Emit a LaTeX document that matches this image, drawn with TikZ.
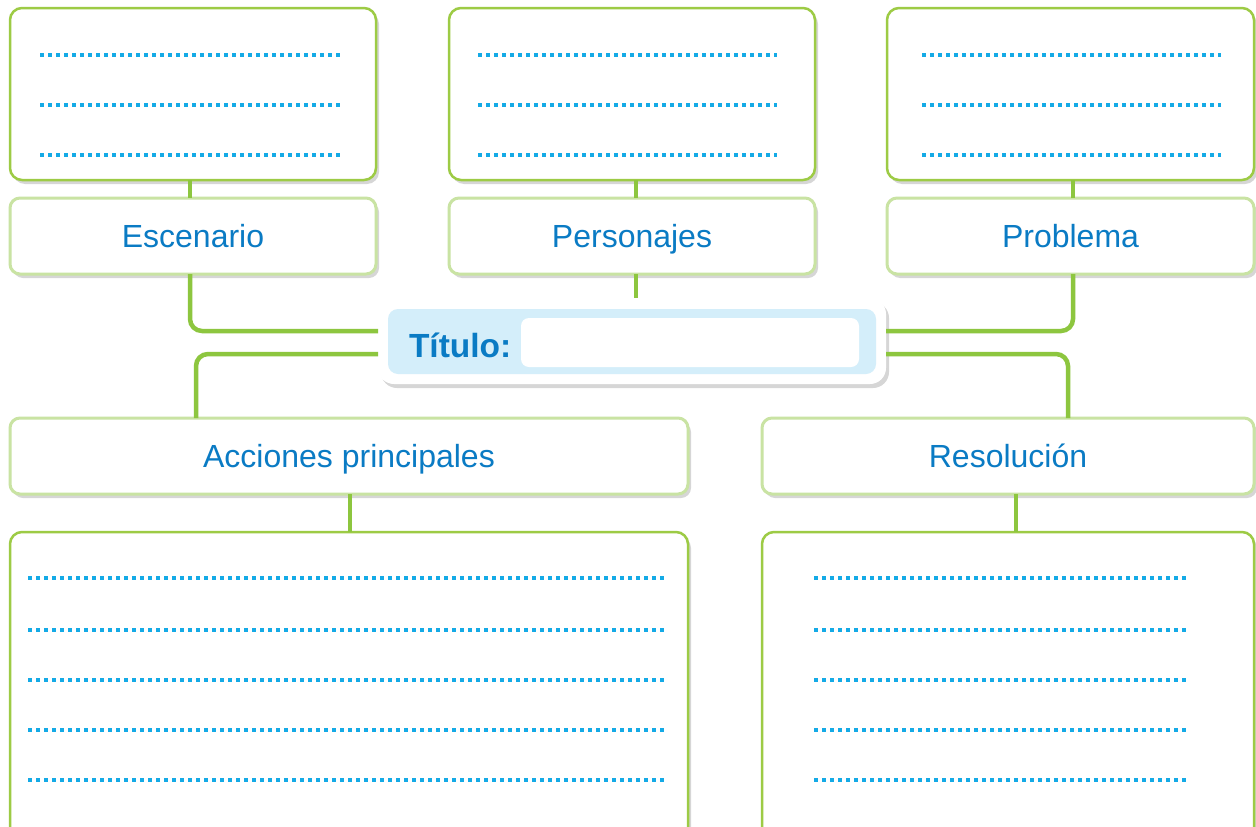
\documentclass[tikz,border=0pt]{standalone}
\usepackage{fontspec}
\setmainfont{Liberation Sans}
\usetikzlibrary{shadows}
\definecolor{leaf}{HTML}{8DC63F}
\definecolor{leafdark}{HTML}{9DCB45}
\definecolor{leaflight}{HTML}{C9E3A3}
\definecolor{ink}{HTML}{0A7BC4}
\definecolor{sky}{HTML}{14AAE6}
\definecolor{pale}{HTML}{D4EEFA}

\begin{document}
\begin{tikzpicture}[x=1pt,y=-1pt,
  every node/.style={inner sep=0pt,outer sep=0pt},
  soft/.style={drop shadow={shadow xshift=3pt,shadow yshift=-4pt,fill=black,opacity=.16}},
  databox/.style={soft,draw=leafdark,line width=2.5pt,fill=white,rounded corners=12pt},
  tagbox/.style={soft,draw=leaflight,line width=3pt,fill=white,rounded corners=10pt,
                 minimum height=76pt,text=ink,text height=23pt,text depth=0pt,
                 font=\fontsize{32}{32}\selectfont},
  link/.style={leaf,line width=4.5pt,rounded corners=12pt},
  dots/.style={sky,line width=3.5pt,dash pattern=on 3.5pt off 4.5pt}]
\useasboundingbox[fill=white] (0,0) rectangle (1256,827);

% top row
\node[databox,minimum width=366pt,minimum height=172pt] (esc-box) at (193,94)    {};
\node[databox,minimum width=366pt,minimum height=172pt] (per-box) at (632,94)    {};
\node[databox,minimum width=367pt,minimum height=172pt] (pro-box) at (1070.5,94) {};
\node[tagbox,minimum width=366pt] (esc) at (193,236)    {Escenario};
\node[tagbox,minimum width=366pt] (per) at (632,236)    {Personajes};
\node[tagbox,minimum width=367pt] (pro) at (1070.5,236) {Problema};

% title
\node[soft,fill=white,rounded corners=16pt,minimum width=508pt,minimum height=86pt] (titulo) at (632,341) {};
\node[fill=pale,rounded corners=10pt,minimum width=488pt,minimum height=65pt] (titulo-fondo) at (632,341.5) {};
\node[fill=white,rounded corners=8pt,minimum width=338pt,minimum height=49pt] (campo) at (690,342.5) {};
\node[anchor=west,text=ink,font=\bfseries\fontsize{33.5}{33.5}\selectfont] (titulo-txt) at (409,345) {Título:};

% bottom row
\node[tagbox,minimum width=678pt] (acc) at (349,456)  {Acciones principales};
\node[tagbox,minimum width=492pt] (res) at (1008,456) {Resolución};
\node[databox,minimum width=678pt,minimum height=308pt] (acc-box) at (349,686)  {};
\node[databox,minimum width=492pt,minimum height=308pt] (res-box) at (1008,686) {};

% connectors
\draw[link] ([xshift=-3pt]esc-box.south) -- ([xshift=-3pt]esc.north);
\draw[link] ([xshift=4pt]per-box.south) -- ([xshift=4pt]per.north);
\draw[link] ([xshift=2.5pt]pro-box.south) -- ([xshift=2.5pt]pro.north);
\draw[link] ([xshift=-3pt]esc.south) |- ([yshift=10pt]titulo.west);
\draw[link] ([xshift=4pt]per.south) -- ([xshift=4pt]titulo.north);
\draw[link] ([xshift=2.5pt]pro.south) |- ([yshift=10pt]titulo.east);
\draw[link] ([yshift=-13pt]titulo.west) -| ([xshift=186pt]acc.north west);
\draw[link] ([yshift=-13pt]titulo.east) -| ([xshift=60pt]res.north);
\draw[link] ([xshift=1pt]acc.south) -- ([xshift=1pt]acc-box.north);
\draw[link] ([xshift=8pt]res.south) -- ([xshift=8pt]res-box.north);

% writing lines
\foreach \bx/\lft/\rgt in {esc-box/30/36,per-box/29/38,pro-box/35/33}
  \foreach \dy in {47,97,147}
    \draw[dots] ([xshift=\lft pt,yshift=-\dy pt]\bx.north west) -- ([xshift=-\rgt pt,yshift=-\dy pt]\bx.north east);
\foreach \bx/\lft/\rgt in {acc-box/18/24,res-box/52/66}
  \foreach \dy in {46,98,148,198,248}
    \draw[dots] ([xshift=\lft pt,yshift=-\dy pt]\bx.north west) -- ([xshift=-\rgt pt,yshift=-\dy pt]\bx.north east);
\end{tikzpicture}
\end{document}
